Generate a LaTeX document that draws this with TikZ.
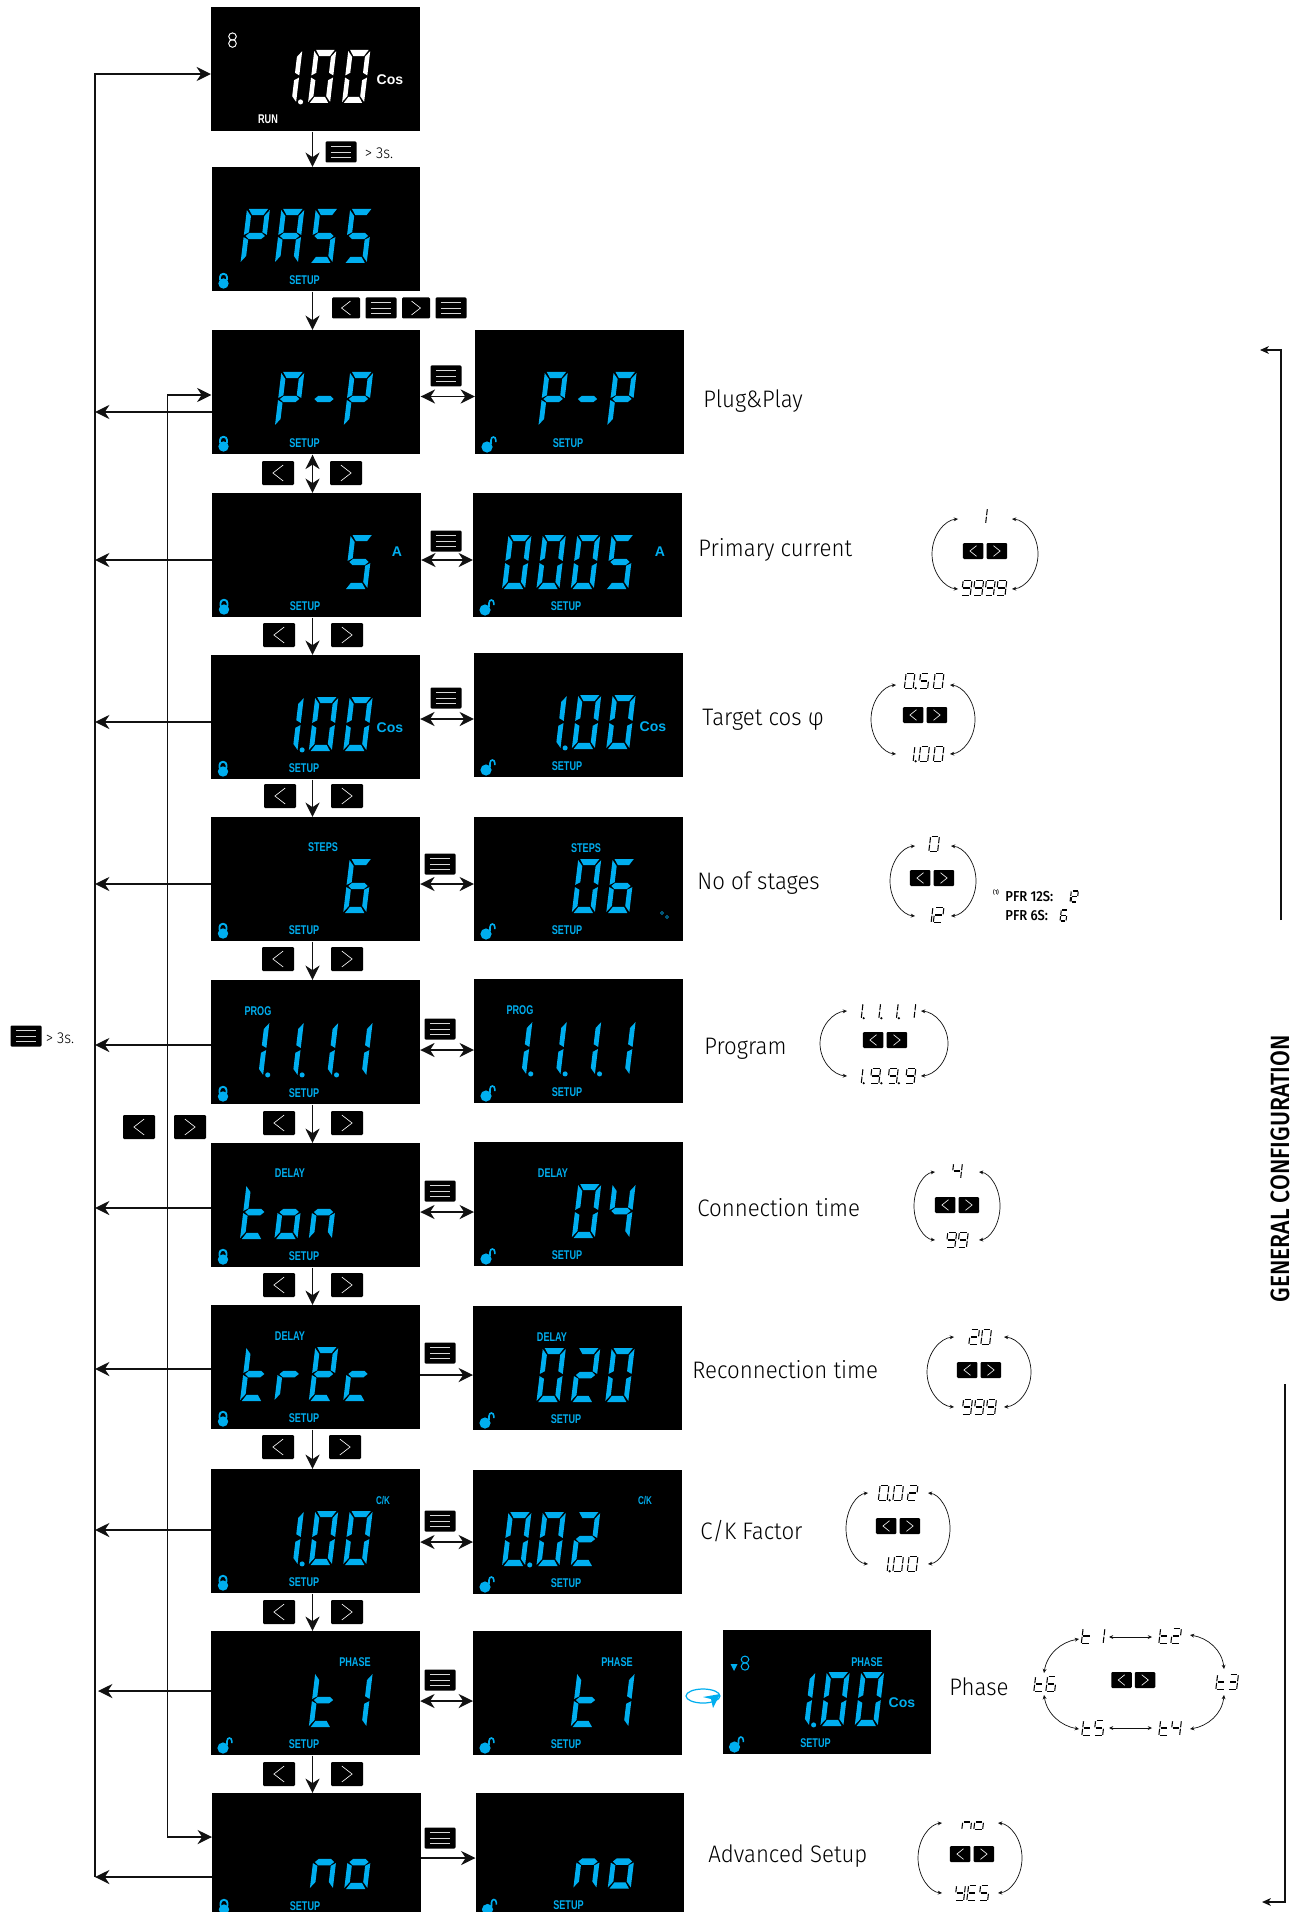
\documentclass[tikz,border=0pt]{standalone}
\usepackage{fontspec}
\usetikzlibrary{arrows.meta,calc}
\setmainfont[FakeStretch=0.93]{Fira Sans Light}
\newfontfamily\lcdfont[FakeStretch=0.72]{Liberation Sans Bold}
\newfontfamily\lcdbold{Liberation Sans Bold}
\newfontfamily\gcfont[FakeStretch=0.87]{Fira Sans Medium}
\newfontfamily\pfrfont[FakeStretch=0.9]{Fira Sans Medium}
\definecolor{lcd}{HTML}{00AEEF}
\definecolor{ink}{HTML}{111111}
\def\pxu{0.02cm}
\def\slantf{0.12}
\def\sevcol{lcd}
\newcount\autoN
% segment shapes (filled)
\def\sega{\fill[\sevcol] (.08,1)--(.92,1)--(.74,.885)--(.26,.885)--cycle;}
\def\segd{\fill[\sevcol] (.08,0)--(.92,0)--(.74,.115)--(.26,.115)--cycle;}
\def\segg{\fill[\sevcol] (.08,.5)--(.24,.56)--(.76,.56)--(.92,.5)--(.76,.44)--(.24,.44)--cycle;}
\def\segf{\fill[\sevcol] (0,.98)--(.21,.87)--(.21,.57)--(0,.52)--cycle;}
\def\sege{\fill[\sevcol] (0,.02)--(.21,.13)--(.21,.43)--(0,.48)--cycle;}
\def\segb{\fill[\sevcol] (1,.98)--(.79,.87)--(.79,.57)--(1,.52)--cycle;}
\def\segc{\fill[\sevcol] (1,.02)--(.79,.13)--(.79,.43)--(1,.48)--cycle;}
\def\segp{\fill[\sevcol] (1.2,.02) circle [radius=1.45pt];}
\def\segz{}
% thin shapes (stroked)
\tikzset{thinseg/.style={draw=black,line width=.6pt}}
\def\thina{\draw[thinseg] (.12,1)--(.88,1);}
\def\thind{\draw[thinseg] (.12,0)--(.88,0);}
\def\thing{\draw[thinseg] (.12,.5)--(.88,.5);}
\def\thinf{\draw[thinseg] (0,.95)--(0,.55);}
\def\thine{\draw[thinseg] (0,.05)--(0,.45);}
\def\thinb{\draw[thinseg] (1,.95)--(1,.55);}
\def\thinc{\draw[thinseg] (1,.05)--(1,.45);}
\def\thinp{\fill[black] (1.28,.02) circle [radius=.7pt];}
\def\thinz{}
\newcommand\defch[2]{\expandafter\def\csname dg#1\endcsname{#2}}
\defch{0}{a,b,c,d,e,f}\defch{1}{b,c}\defch{2}{a,b,g,e,d}\defch{3}{a,b,g,c,d}
\defch{4}{f,g,b,c}\defch{5}{a,f,g,c,d}\defch{6}{a,f,g,e,d,c}\defch{9}{a,b,c,d,f,g}
\defch{0.}{a,b,c,d,e,f,p}\defch{1.}{b,c,p}\defch{9.}{a,b,c,d,f,g,p}
\defch{P}{a,b,f,g,e}\defch{A}{a,b,c,e,f,g}\defch{S}{a,f,g,c,d}\defch{t}{f,g,e,d}
\defch{o}{c,d,e,g}\defch{n}{g,e,c}\defch{r}{g,e}\defch{Q}{a,b,f,g,e,d}\defch{c}{g,e,d}
\defch{Y}{f,g,b,c,d}\defch{E}{a,f,g,e,d}\defch{-}{g}\defch{_}{z}
% \sevstr{x}{ybase}{w}{h}{pitch}{mode}{list}
\newcommand\sevstr[7]{%
  \foreach \curch [count=\ci from 0] in {#7} {%
    \begin{scope}[shift={({#1+\ci*#5},{#2})},x={(#3*\pxu,0pt)},y={(\slantf*#4*\pxu,#4*\pxu)}]
      \edef\seglist{\csname dg\curch\endcsname}%
      \foreach \sg in \seglist {\csname #6\sg\endcsname}%
    \end{scope}}}
% labelled text
\newcommand\lab[5][]{\global\advance\autoN by 1 \node[inner sep=0pt,#1] (t\the\autoN) at (#2,#3) {\fontsize{#4}{#4}\selectfont #5};}
\newcommand\lcd[4][lcd]{\lab[text=#1]{#2}{#3}{7.2pt}{\lcdfont #4}}
\newcommand\lockc[2]{\fill[lcd] ({#1+12},{#2+116.5}) circle [radius=5.2*\pxu];
  \draw[lcd,line width=1.1pt] ({#1+8.5},{#2+113}) -- ({#1+8.5},{#2+110}) arc [start angle=180,end angle=0,x radius=3.5,y radius=-3.2] -- ({#1+15.5},{#2+113});}
\newcommand\locko[2]{\fill[lcd] ({#1+12},{#2+117}) circle [radius=5.6*\pxu];
  \draw[lcd,line width=.9pt] ({#1+16},{#2+114}) -- ({#1+16},{#2+110}) arc [start angle=180,end angle=0,x radius=2.4,y radius=-3] -- ({#1+20.8},{#2+112});}
\tikzset{
  screenbox/.style={fill=black,draw=none,inner sep=0pt,anchor=north west,minimum width=208.5*\pxu,minimum height=124*\pxu},
  btnbox/.style={fill=black,draw=none,inner sep=0pt,rounded corners=.6pt},
  arr/.style={line width=.85pt,draw=ink,-{Stealth[length=8.2pt,width=8pt,inset=2.6pt]}},
  barr/.style={line width=.85pt,draw=ink,{Stealth[length=8.2pt,width=8pt,inset=2.6pt]}-{Stealth[length=8.2pt,width=8pt,inset=2.6pt]}},
  sarr/.style={line width=.4pt,draw=ink,{Stealth[length=2.4pt,width=2.2pt]}-{Stealth[length=2.4pt,width=2.2pt]}},
  brk/.style={line width=.95pt,draw=ink,-{Stealth[length=5pt,width=4.4pt,inset=1.4pt]}},
}
% \screen{name}{x}{y}{lock c/o}{digits}
\newcommand\screen[5]{%
  \node[screenbox] (#1) at (#2,#3) {};
  \csname lock#4\endcsname{#2}{#3}
  \lcd{{#2+93}}{{#3+113}}{SETUP}
  \sevstr{#2+29}{#3+96}{23}{54}{34.4}{seg}{#5}}
\newcommand\btnm[5]{\node[btnbox,minimum width=#4*\pxu,minimum height=#5*\pxu] (#1) at (#2,#3) {};
  \foreach \dy in {-.25,0,.25} {\draw[white!85!black,line width=.55pt] ({#2-#4*.33},{#3+\dy*#5}) -- ({#2+#4*.33},{#3+\dy*#5});}}
\newcommand\btnl[5]{\node[btnbox,minimum width=#4*\pxu,minimum height=#5*\pxu] (#1) at ({#2},{#3}) {};
  \draw[white,line width=.35pt] ({#2+#4*.16},{#3-#5*.33}) -- ({#2-#4*.16},{#3}) -- ({#2+#4*.16},{#3+#5*.33});}
\newcommand\btnr[5]{\node[btnbox,minimum width=#4*\pxu,minimum height=#5*\pxu] (#1) at ({#2},{#3}) {};
  \draw[white,line width=.35pt] ({#2-#4*.16},{#3-#5*.33}) -- ({#2+#4*.16},{#3}) -- ({#2-#4*.16},{#3+#5*.33});}
\newcommand\navpair[4]{\btnl{#1l}{#2}{#4}{32}{24}\btnr{#1r}{#3}{#4}{32}{24}}
\newcommand\hconn[4]{\coordinate (hc#1) at (0,#3); \draw[#4] (#1.east |- hc#1) -- (#2.west |- hc#1);}
\newcommand\tobus[2]{\coordinate (bc#1) at (0,#2); \draw[arr] (#1.west |- bc#1) -- (busL |- bc#1);}
% cycle widget  \cyc{id}{cx}{ytop}{ybot}{ax}{bx}{btnx}{btny}
\newcommand\cyc[8]{%
  \coordinate (#1tl) at ({#2-#5},#3); \coordinate (#1bl) at ({#2-#5},#4);
  \coordinate (#1tr) at ({#2+#5},#3); \coordinate (#1br) at ({#2+#5},#4);
  \draw[sarr] (#1tl) .. controls ({#2-#5-.5*(#6-#5)},{#3+1}) and ({#2-#6},{#3+.45*(#4-#3)/2}) .. ({#2-#6},{(#3+#4)/2}) .. controls ({#2-#6},{#4-.45*(#4-#3)/2}) and ({#2-#5-.5*(#6-#5)},{#4-1}) .. (#1bl);
  \draw[sarr] (#1tr) .. controls ({#2+#5+.5*(#6-#5)},{#3+1}) and ({#2+#6},{#3+.45*(#4-#3)/2}) .. ({#2+#6},{(#3+#4)/2}) .. controls ({#2+#6},{#4-.45*(#4-#3)/2}) and ({#2+#5+.5*(#6-#5)},{#4-1}) .. (#1br);
  \btnl{#1bl0}{#7-11.8}{#8}{20.5}{16}\btnr{#1br0}{#7+11.8}{#8}{20.5}{16}}
% centered thin value: \val{cx}{ycenter}{n}{pitch}{list}
\newcommand\val[5]{\sevstr{#1-(#3-1)*#4/2-5.2}{#2+7.5}{8.8}{15}{#4}{thin}{#5}}
\begin{document}
\begin{tikzpicture}[x=\pxu,y=-\pxu]
\useasboundingbox (0,0) rectangle (1297,1912);
\clip (0,0) rectangle (1297,1912);
\coordinate (busL) at (95,74);
\coordinate (busEnd) at (95,1877);
\coordinate (bus2top) at (167.5,395);
\coordinate (bus2bot) at (167.5,1837);
\coordinate (vx) at (312.5,0);
% screen 1
\node[screenbox] (s1) at (211,7) {};
\begin{scope}\def\sevcol{white}
\sevstr{240}{103}{22}{53}{34.0}{seg}{_,1.,0,0}
\end{scope}
\draw[white,line width=.55pt] (232.5,36.5) ellipse [x radius=3.8,y radius=3.6] (232.5,43.5) ellipse [x radius=3.8,y radius=3.8];
\lab[text=white]{390}{80}{8pt}{\lcdbold Cos}
\lcd[white]{268}{119}{RUN}
% left column
\screen{s2}{211.5}{167}{c}{P,A,S,S}
\screen{s3}{211.5}{330}{c}{_,P,-,P}
\screen{s4}{212}{493}{c}{_,_,_,5}
\screen{s5}{211}{655}{c}{_,1.,0,0}
\screen{s6}{211}{817}{c}{_,_,_,6}
\screen{s7}{211}{980}{c}{1.,1.,1.,1}
\screen{s8}{211}{1143}{c}{t,o,n,_}
\screen{s9}{211}{1305}{c}{t,r,Q,c}
\screen{s10}{211}{1469}{c}{_,1.,0,0}
\screen{s11}{211}{1631}{o}{_,_,t,1}
\screen{s12}{212}{1793}{c}{_,_,n,o}
% right column
\screen{r3}{475}{330}{o}{_,P,-,P}
\screen{r4}{473}{493}{o}{0,0,0,5}
\screen{r5}{474}{653}{o}{_,1.,0,0}
\screen{r6}{474}{817}{o}{_,_,0,6}
\screen{r7}{474}{979}{o}{1.,1.,1.,1}
\screen{r8}{474}{1142}{o}{_,_,0,4}
\screen{r9}{473}{1306}{o}{_,0,2,0}
\screen{r10}{473}{1470}{o}{0.,0,2,_}
\screen{r11}{473}{1631}{o}{_,_,t,1}
\screen{r12}{475.5}{1792.5}{o}{_,_,n,o}
\screen{p11}{722.5}{1630}{o}{_,1.,0,0}
% screen captions
\lab[text=lcd]{397}{552}{8pt}{\lcdbold A}
\lab[text=lcd]{660}{552}{8pt}{\lcdbold A}
\lab[text=lcd]{390}{728}{8pt}{\lcdbold Cos}
\lab[text=lcd]{653}{727}{8pt}{\lcdbold Cos}
\lab[text=lcd]{902}{1703}{8pt}{\lcdbold Cos}
\lcd{323}{847}{STEPS}\lcd{586}{848}{STEPS}
\lcd{258}{1011}{PROG}\lcd{520}{1010}{PROG}
\lcd{290}{1173}{DELAY}\lcd{553}{1173}{DELAY}
\lcd{290}{1336}{DELAY}\lcd{552}{1337}{DELAY}
\lab[text=lcd]{383}{1501}{6.4pt}{\lcdfont C/K}
\lab[text=lcd]{645}{1501}{6.4pt}{\lcdfont C/K}
\lcd{355}{1662}{PHASE}\lcd{617}{1662}{PHASE}\lcd{867}{1662}{PHASE}
\draw[lcd,line width=.3pt] (662,913) circle [radius=1.4*\pxu] (667,917) circle [radius=1.4*\pxu];
\fill[lcd] (730.5,1664) -- (737.5,1664) -- (734,1671) -- cycle;
\draw[lcd,line width=.6pt] (745,1659.5) ellipse [x radius=3.8,y radius=3.4] (745,1666.5) ellipse [x radius=3.8,y radius=3.6];
% rotate icon
\draw[lcd,line width=.7pt] (703,1696) ellipse [x radius=17,y radius=7];
\fill[lcd] (720,1694) -- (713,1708) -- (711,1699) -- (703,1697) -- cycle;
% buses
\draw[arr] (busEnd) -- (busL) -- (s1.west |- busL);
\draw[barr] (s3.west |- bus2top) -- (bus2top) -- (bus2bot) -- (s12.west |- bus2bot);
\tobus{s3}{412}\tobus{s4}{560}\tobus{s5}{722}\tobus{s6}{884}\tobus{s7}{1045}
\tobus{s8}{1208}\tobus{s9}{1369}\tobus{s10}{1530}\tobus{s12}{1877}
\coordinate (bcs11) at (98,1691); \draw[arr] (s11.west |- bcs11) -- (bcs11);
% vertical connectors
\draw[arr] (vx |- s1.south) -- (vx |- s2.north);
\draw[arr] (vx |- s2.south) -- (vx |- s3.north);
\draw[barr] (vx |- s3.south) -- (vx |- s4.north);
\draw[arr] (vx |- s4.south) -- (vx |- s5.north);
\draw[arr] (vx |- s5.south) -- (vx |- s6.north);
\draw[arr] (vx |- s6.south) -- (vx |- s7.north);
\draw[arr] (vx |- s7.south) -- (vx |- s8.north);
\draw[arr] (vx |- s8.south) -- (vx |- s9.north);
\draw[arr] (vx |- s9.south) -- (vx |- s10.north);
\draw[arr] (vx |- s10.south) -- (vx |- s11.north);
\draw[arr] (vx |- s11.south) -- (vx |- s12.north);
% horizontal connectors
\hconn{s3}{r3}{396.5}{barr}\hconn{s4}{r4}{560}{barr}\hconn{s5}{r5}{719}{barr}
\hconn{s6}{r6}{884}{barr}\hconn{s7}{r7}{1050}{barr}\hconn{s8}{r8}{1212}{barr}
\hconn{s9}{r9}{1375}{arr}\hconn{s10}{r10}{1542}{barr}\hconn{s11}{r11}{1701}{barr}
\hconn{s12}{r12}{1858}{arr}
% menu buttons
\btnm{m1}{341}{152}{31}{21}
\btnm{m3}{446}{376}{31}{21}\btnm{m4}{446}{541}{31}{21}\btnm{m5}{446}{698}{31}{21}
\btnm{m6}{440}{864}{31}{21}\btnm{m7}{440}{1029}{31}{21}\btnm{m8}{440}{1191}{31}{21}
\btnm{m9}{440}{1353}{31}{21}\btnm{m10}{440}{1521}{31}{21}\btnm{m11}{440}{1680}{31}{21}
\btnm{m12}{440}{1838}{31}{21}\btnm{m0}{26}{1036}{31}{21}
% row 2 sequence
\btnl{q1}{346}{308}{28}{21}\btnm{q2}{381}{308}{31}{21}\btnr{q3}{416}{308}{28}{21}\btnm{q4}{451}{308}{31}{21}
% nav pairs
\navpair{n3}{278}{346}{473}
\navpair{n4}{279}{347}{635}
\navpair{n5}{280}{347}{796}
\navpair{n6}{278}{347}{959}
\navpair{n7}{279}{347}{1123}
\navpair{n8}{279}{347}{1285}
\navpair{n9}{278}{345}{1447}
\navpair{n10}{279}{347}{1612}
\navpair{n11}{279}{347}{1774}
\navpair{nb}{139}{190}{1127}
% > 3s.
\lab{379}{153}{9pt}{> 3s.}
\lab{60}{1038}{9pt}{> 3s.}
% main labels
\lab[anchor=west]{703}{401.5}{13.6pt}{Plug\&Play}
\lab[anchor=west]{698}{549.5}{13.6pt}{Primary current}
\lab[anchor=west]{702}{720}{13.6pt}{Target cos φ}
\lab[anchor=west]{697}{883.5}{13.6pt}{No of stages}
\lab[anchor=west]{704}{1049}{13.6pt}{Program}
\lab[anchor=west]{697}{1207.5}{13.6pt}{Connection time}
\lab[anchor=west]{692}{1369.5}{13.6pt}{Reconnection time}
\lab[anchor=west]{700}{1531}{13.6pt}{C/K Factor}
\lab[anchor=west]{949}{1687}{13.6pt}{Phase}
\lab[anchor=west]{708}{1856}{13.6pt}{Advanced Setup}
% widgets
\cyc{pc}{985}{519}{589}{27}{53}{985}{551}
\val{982}{516}{1}{11}{1}\val{984}{588}{4}{11.6}{9,9,9,9}
\cyc{tc}{923}{685}{754}{27}{52}{925}{715}
\val{924}{681}{3}{14.5}{0.,5,0}\val{924}{754}{3}{14.5}{1.,0,0}
\cyc{st}{933}{846}{916}{18}{43}{932}{878}
\val{934}{844}{1}{11}{0}\val{933}{915}{2}{11}{1,2}
\cyc{pg}{884}{1011}{1076}{37}{64}{885}{1040}
\val{884}{1011}{4}{17.6}{1.,1.,1.,1}\val{884}{1076}{4}{17.6}{1.,9.,9.,9}
\cyc{ct}{957}{1172}{1240}{22}{43}{957}{1205}
\val{957}{1171}{1}{11}{4}\val{957}{1240}{2}{11.6}{9,9}
\cyc{rc}{979}{1337}{1407}{25}{52}{979}{1370}
\val{980}{1337}{2}{12}{2,0}\val{979}{1407}{3}{12}{9,9,9}
\cyc{ck}{898}{1493}{1564}{30}{52}{898}{1526}
\val{898}{1493}{3}{14.5}{0.,0,2}\val{898}{1564}{3}{14.5}{1.,0,0}
\cyc{as}{970}{1823}{1893}{28}{52}{972}{1854}
\val{973}{1822}{2}{12}{n,o}\val{972}{1893}{3}{12}{Y,E,S}
% phase ring
\coordinate (a12) at (1109,1637);\coordinate (b12) at (1152,1637);
\coordinate (a54) at (1109,1728);\coordinate (b54) at (1152,1728);
\coordinate (a23) at (1190,1635);\coordinate (b23) at (1224,1669);
\coordinate (a34) at (1224,1695);\coordinate (b34) at (1190,1729);
\coordinate (a56) at (1079,1729);\coordinate (b56) at (1044,1695);
\coordinate (a16) at (1079,1639);\coordinate (b16) at (1044,1673);
\draw[sarr] (a12) -- (b12); \draw[sarr] (a54) -- (b54);
\draw[sarr] (a23) .. controls (1208,1638) and (1222,1650) .. (b23);
\draw[sarr] (a34) .. controls (1222,1714) and (1208,1726) .. (b34);
\draw[sarr] (a56) .. controls (1061,1726) and (1047,1714) .. (b56);
\draw[sarr] (a16) .. controls (1061,1642) and (1047,1654) .. (b16);
\val{1093}{1636}{2}{13}{t,1}\val{1170}{1636}{2}{12}{t,2}\val{1227}{1682}{2}{12}{t,3}
\val{1170}{1728}{2}{12}{t,4}\val{1093}{1728}{2}{12}{t,5}\val{1045}{1684}{2}{12}{t,6}
\btnl{phl}{1121.5}{1680}{20.5}{16}\btnr{phr}{1145}{1680}{20.5}{16}
% footnote
\lab{996}{892}{3.4pt}{\pfrfont (1)}
\lab[anchor=west]{1005}{897}{8.2pt}{\pfrfont PFR 12S:}
\lab[anchor=west]{1005}{915.5}{8.2pt}{\pfrfont PFR 6S:}
\sevstr{1064}{902}{6}{11}{7}{thin}{1,2}
\sevstr{1060}{921}{6}{11}{7}{thin}{6}
% right brackets
\coordinate (ba) at (1281,920);\coordinate (bb) at (1281,350);\coordinate (bc) at (1260,350);
\coordinate (bd) at (1285,1384);\coordinate (be) at (1285,1902);\coordinate (bf) at (1262,1902);
\draw[brk] (ba) -- (bb) -- (bc);
\draw[brk] (bd) -- (be) -- (bf);
\lab[rotate=90]{1280}{1169}{15pt}{\gcfont GENERAL CONFIGURATION}
\end{tikzpicture}
\end{document}
